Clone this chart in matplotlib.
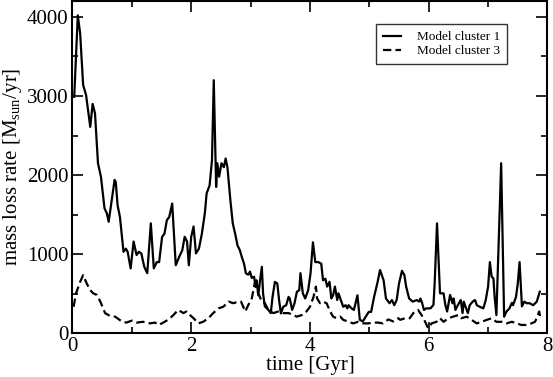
# mass loss rate of the two model clusters vs time
import numpy as np
import matplotlib
matplotlib.use('Agg')
from matplotlib import pyplot as plt

t1 = [0.03, 0.09, 0.13, 0.18, 0.23, 0.30, 0.34, 0.38, 0.43, 0.48, 0.54, 0.58, 0.61, 0.66, 0.71, 0.73,
      0.76, 0.80, 0.86, 0.90, 0.93, 0.98, 1.03, 1.08, 1.12, 1.16, 1.21, 1.26, 1.32, 1.37, 1.42, 1.46,
      1.51, 1.55, 1.59, 1.63, 1.68, 1.74, 1.80, 1.85, 1.89, 1.93, 1.96, 2.00, 2.04, 2.08, 2.13, 2.18,
      2.23, 2.26, 2.31, 2.35, 2.38, 2.42, 2.44, 2.47, 2.51, 2.55, 2.58, 2.61, 2.66, 2.70, 2.74, 2.78,
      2.82, 2.85, 2.89, 2.92, 2.96, 2.99, 3.02, 3.06, 3.08, 3.10, 3.13, 3.16, 3.19, 3.21, 3.24, 3.30,
      3.34, 3.37, 3.41, 3.45, 3.48, 3.51, 3.55, 3.60, 3.64, 3.66, 3.70, 3.74, 3.78, 3.82, 3.84, 3.88,
      3.92, 3.97, 4.01, 4.05, 4.09, 4.14, 4.19, 4.22, 4.26, 4.29, 4.33, 4.36, 4.39, 4.42, 4.46, 4.48,
      4.52, 4.56, 4.60, 4.63, 4.65, 4.70, 4.74, 4.76, 4.80, 4.84, 4.89, 4.94, 4.99, 5.03, 5.08, 5.14,
      5.18, 5.24, 5.28, 5.34, 5.38, 5.42, 5.46, 5.50, 5.55, 5.59, 5.62, 5.67, 5.73, 5.80, 5.84, 5.86,
      5.89, 5.92, 5.96, 6.03, 6.08, 6.10, 6.14, 6.19, 6.25, 6.28, 6.31, 6.36, 6.40, 6.42, 6.45, 6.49,
      6.54, 6.57, 6.59, 6.62, 6.66, 6.69, 6.74, 6.78, 6.81, 6.86, 6.92, 6.96, 7.00, 7.03, 7.06, 7.09,
      7.11, 7.14, 7.22, 7.27, 7.31, 7.36, 7.40, 7.42, 7.47, 7.50, 7.53, 7.57, 7.61, 7.65, 7.70, 7.76,
      7.82, 7.87]
m1 = [2990, 4020, 3790, 3140, 3010, 2610, 2900, 2780, 2150, 1980, 1580, 1515, 1410, 1680, 1940, 1910,
      1620, 1470, 1030, 1070, 1030, 820, 1160, 990, 1030, 1010, 840, 760, 1390, 820, 900, 900,
      1220, 1260, 1430, 1470, 1640, 860, 970, 1050, 1220, 1160, 860, 1220, 1350, 1010, 1070, 1260,
      1520, 1770, 1870, 2190, 3200, 1850, 2150, 1980, 2150, 2100, 2210, 2100, 1680, 1390, 1260, 1110,
      1050, 970, 880, 760, 740, 780, 700, 715, 590, 670, 480, 670, 840, 505, 340, 295,
      255, 460, 650, 630, 420, 250, 335, 355, 460, 440, 295, 380, 525, 545, 760, 505,
      440, 545, 760, 1150, 900, 900, 880, 670, 690, 590, 650, 440, 480, 590, 420, 505,
      420, 335, 355, 315, 355, 315, 295, 355, 480, 170, 150, 210, 270, 270, 460, 650,
      800, 670, 440, 380, 420, 355, 420, 630, 790, 735, 590, 440, 400, 420, 400, 440,
      380, 295, 315, 315, 360, 630, 1390, 505, 505, 360, 275, 485, 380, 440, 295, 355,
      420, 255, 400, 335, 255, 355, 400, 420, 355, 335, 315, 420, 590, 900, 715, 695,
      460, 230, 2150, 210, 275, 315, 385, 355, 460, 630, 900, 340, 400, 380, 380, 355,
      400, 525]

t3 = [0.02, 0.06, 0.13, 0.18, 0.24, 0.30, 0.35, 0.41, 0.47, 0.55, 0.63, 0.72, 0.83, 0.91, 1.00, 1.08,
      1.19, 1.31, 1.39, 1.45, 1.53, 1.62, 1.70, 1.78, 1.87, 1.92, 1.98, 2.04, 2.12, 2.20, 2.29, 2.37,
      2.46, 2.54, 2.63, 2.71, 2.79, 2.84, 2.91, 2.96, 3.02, 3.07, 3.13, 3.19, 3.24, 3.30, 3.38, 3.47,
      3.55, 3.64, 3.72, 3.78, 3.86, 3.94, 4.00, 4.06, 4.10, 4.12, 4.17, 4.22, 4.28, 4.34, 4.39, 4.45,
      4.51, 4.56, 4.65, 4.73, 4.81, 4.90, 4.98, 5.07, 5.15, 5.23, 5.32, 5.40, 5.49, 5.52, 5.60, 5.68,
      5.74, 5.82, 5.88, 5.94, 5.99, 6.05, 6.13, 6.19, 6.25, 6.33, 6.41, 6.50, 6.55, 6.64, 6.72, 6.81,
      6.89, 6.98, 7.06, 7.14, 7.23, 7.31, 7.40, 7.48, 7.56, 7.65, 7.73, 7.79, 7.83, 7.86, 7.88]
m3 = [335, 505, 650, 735, 630, 545, 505, 485, 400, 255, 220, 210, 150, 135, 160, 135,
      145, 125, 135, 105, 135, 175, 230, 295, 255, 275, 230, 190, 125, 145, 190, 255,
      315, 335, 400, 380, 400, 400, 275, 355, 440, 630, 505, 400, 380, 295, 255, 275,
      255, 255, 230, 210, 230, 275, 335, 460, 590, 440, 380, 400, 380, 275, 210, 190,
      210, 170, 145, 125, 145, 125, 125, 135, 135, 125, 175, 150, 190, 170, 190, 190,
      255, 295, 230, 145, 65, 125, 145, 190, 145, 190, 210, 230, 190, 210, 170, 125,
      145, 170, 190, 145, 145, 125, 145, 125, 105, 105, 125, 145, 210, 275, 190]

plt.rcParams['font.family'] = 'Liberation Serif'
plt.rcParams['mathtext.fontset'] = 'custom'
plt.rcParams['mathtext.rm'] = 'Liberation Serif'
plt.rcParams['lines.scale_dashes'] = False

fig = plt.figure(figsize=(5.53, 3.77), dpi=100)
ax = fig.add_axes([0.131, 0.116, 0.859, 0.881])

ax.plot(t1, m1, color='black', lw=1.6, label='Model cluster 1')
ax.plot(t3, m3, color='black', lw=1.6, dashes=(6, 3), label='Model cluster 3')

ax.set_xlim(0, 8)
ax.set_ylim(0, 4200)
ax.set_xticks([0, 2, 4, 6, 8])
ax.set_xticks([1, 3, 5, 7], minor=True)
ax.set_yticks([0, 1000, 2000, 3000, 4000])
ax.set_yticks(np.arange(500, 4200, 1000), minor=True)
ax.tick_params(which='both', direction='in', top=True, right=True, labelsize=15, width=1.2, pad=3)
ax.tick_params(which='major', length=8)
ax.tick_params(which='minor', length=4)
for s in ax.spines.values():
    s.set_linewidth(1.5)

ax.set_xlabel('time [Gyr]', fontsize=15, labelpad=0)
ax.set_ylabel(r'mass loss rate [M$_{\rm sun}$/yr]', fontsize=15, labelpad=2)

leg = ax.legend(loc='upper right', bbox_to_anchor=(0.915, 0.930), fontsize=9.5,
                fancybox=False, edgecolor='black', handlelength=1.4, borderpad=0.5,
                labelspacing=0.15, handletextpad=1.2, borderaxespad=0)
leg.get_frame().set_linewidth(1.0)

fig.savefig('out.png', dpi=100)
